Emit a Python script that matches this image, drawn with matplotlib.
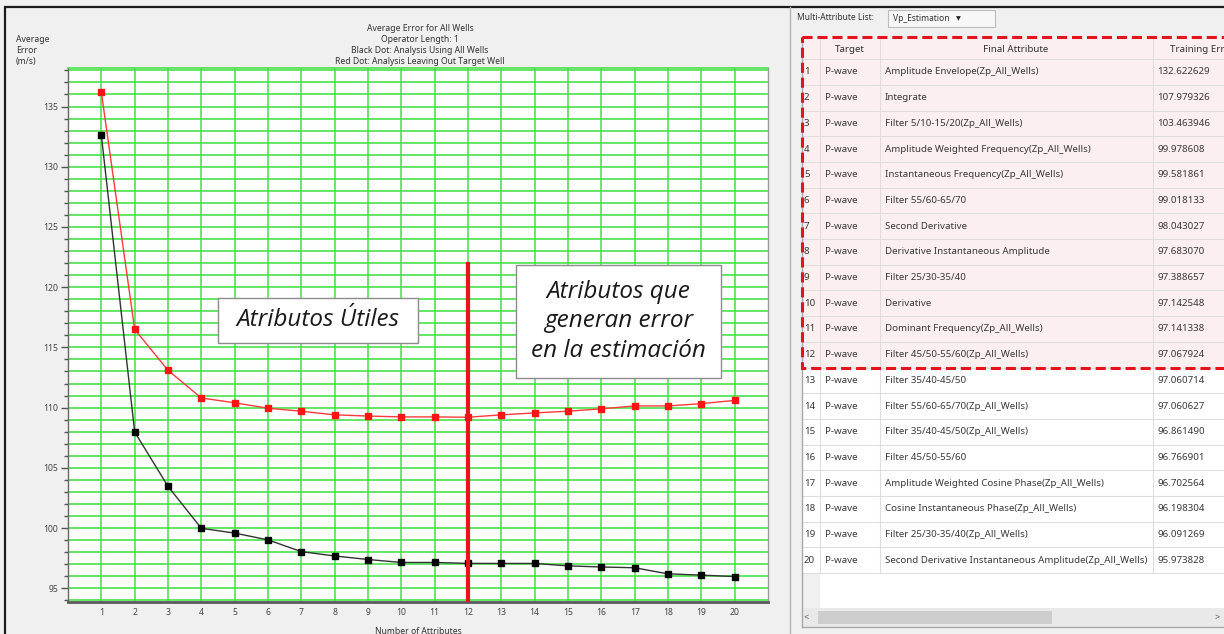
import matplotlib
matplotlib.use("Agg")
import matplotlib.pyplot as plt
from matplotlib.patches import Rectangle
from matplotlib.ticker import MultipleLocator

# ---- data -------------------------------------------------------------
n_attributes = list(range(1, 21))

training_error = [132.622629, 107.979326, 103.463946, 99.978608, 99.581861,
                  99.018133, 98.043027, 97.683070, 97.388657, 97.142548,
                  97.141338, 97.067924, 97.060714, 97.060627, 96.861490,
                  96.766901, 96.702564, 96.198304, 96.091269, 95.973828]

validation_error = [136.2, 116.5, 113.1, 110.8, 110.4, 109.95, 109.7, 109.4,
                    109.3, 109.23, 109.23, 109.2, 109.4, 109.56, 109.7, 109.9,
                    110.14, 110.14, 110.33, 110.6]

targets = ["P-wave"] * 20

final_attributes = [
    "Amplitude Envelope(Zp_All_Wells)",
    "Integrate",
    "Filter 5/10-15/20(Zp_All_Wells)",
    "Amplitude Weighted Frequency(Zp_All_Wells)",
    "Instantaneous Frequency(Zp_All_Wells)",
    "Filter 55/60-65/70",
    "Second Derivative",
    "Derivative Instantaneous Amplitude",
    "Filter 25/30-35/40",
    "Derivative",
    "Dominant Frequency(Zp_All_Wells)",
    "Filter 45/50-55/60(Zp_All_Wells)",
    "Filter 35/40-45/50",
    "Filter 55/60-65/70(Zp_All_Wells)",
    "Filter 35/40-45/50(Zp_All_Wells)",
    "Filter 45/50-55/60",
    "Amplitude Weighted Cosine Phase(Zp_All_Wells)",
    "Cosine Instantaneous Phase(Zp_All_Wells)",
    "Filter 25/30-35/40(Zp_All_Wells)",
    "Second Derivative Instantaneous Amplitude(Zp_All_Wells)",
]

table_headers = ["Target", "Final Attribute", "Training Error"]
useful_count = 12

title_lines = ["Average Error for All Wells", "Operator Length: 1",
               "Black Dot: Analysis Using All Wells",
               "Red Dot: Analysis Leaving Out Target Well"]

# ---- figure & helpers -------------------------------------------------
W, H = 1224, 634
UI_FONT = "Noto Sans"
NOTE_FONT = "Open Sans"
fig = plt.figure(figsize=(W / 100, H / 100), dpi=100, facecolor="#f0f0f0")


def px_box(x0, y0, x1, y1):
    return [x0 / W, 1 - y1 / H, (x1 - x0) / W, (y1 - y0) / H]


# canvas in pixel units for the window chrome and the table
cv = fig.add_axes([0, 0, 1, 1], zorder=0)
cv.set_xlim(0, W)
cv.set_ylim(H, 0)
cv.axis("off")

# window frame
cv.plot([4, W], [6.5, 6.5], color="#1c1c1c", lw=1.6, solid_capstyle="butt")
cv.plot([5, 5], [6.5, H], color="#1c1c1c", lw=1.6, solid_capstyle="butt")
cv.plot([790, 790], [6.5, H], color="#b4b4b4", lw=1.0)

# ---- chart ------------------------------------------------------------
ax = fig.add_axes(px_box(68, 68, 768, 602), zorder=2)
ax.set_facecolor("#fefefe")
ylo, yhi = 93.86, 138.2
ax.set_xlim(0, 21)
ax.set_ylim(ylo, yhi)

ax.set_xticks(n_attributes)
ax.set_xticklabels([str(v) for v in n_attributes])
ax.yaxis.set_major_locator(MultipleLocator(5))
ax.yaxis.set_minor_locator(MultipleLocator(1))

green = "#44e044"
ax.grid(True, which="both", axis="y", color=green, lw=1.15, zorder=0)
ax.grid(True, which="major", axis="x", color=green, lw=1.1, zorder=0)
ax.set_axisbelow(True)

ax.tick_params(axis="x", length=0, pad=4, labelsize=6.2, labelcolor="#444")
ax.tick_params(axis="y", which="major", direction="out", length=5, width=1,
               color="#555", labelsize=6.2, labelcolor="#444", pad=2)
ax.tick_params(axis="y", which="minor", direction="out", length=3, width=1,
               color="#555")
for lab in ax.get_xticklabels() + ax.get_yticklabels():
    lab.set_family(UI_FONT)

ax.spines["left"].set_color("#666")
ax.spines["left"].set_linewidth(1.0)
ax.spines["bottom"].set_color("#5a5a5a")
ax.spines["bottom"].set_linewidth(2.0)
ax.spines["right"].set_color("#9a9a9a")
ax.spines["right"].set_linewidth(1.0)
ax.spines["top"].set_color(green)
ax.spines["top"].set_linewidth(1.15)

ax.plot(n_attributes, validation_error, color="#ff3a3a", lw=1.0, marker="s",
        ms=5, mfc="#ff1414", mec="#ff1414", zorder=4)
ax.plot(n_attributes, training_error, color="#333333", lw=1.0, marker="s",
        ms=5, mfc="#000000", mec="#000000", zorder=4)

# divider after the last useful attribute
divider_top = 121.9
ax.axvline(useful_count, ymin=0, ymax=(divider_top - ylo) / (yhi - ylo),
           color="#e8141c", lw=3.0, zorder=5)

# annotation boxes
ax.add_patch(Rectangle((4.5, 115.4), 6.0, 3.7, facecolor="white",
                       edgecolor="#8c8c8c", lw=1.0, zorder=6))
ax.text(7.5, 117.25, "Atributos Útiles", ha="center", va="center",
        fontsize=17.5, style="italic", family=NOTE_FONT, color="#1a1a1a",
        zorder=7)
ax.add_patch(Rectangle((13.45, 112.5), 6.15, 9.35, facecolor="white",
                       edgecolor="#8c8c8c", lw=1.0, zorder=6))
ax.text(16.52, 117.17, "Atributos que\ngeneran error\nen la estimación",
        ha="center", va="center", fontsize=17.5, style="italic",
        family=NOTE_FONT, color="#1a1a1a", linespacing=1.3, zorder=7)

# chart titles and axis labels
for i, line in enumerate(title_lines):
    cv.text(420, 28.5 + i * 11.1, line, ha="center", va="center",
            fontsize=6.2, family=UI_FONT, color="#333")
for i, line in enumerate(["Average", "Error", "(m/s)"]):
    cv.text(16, 39.5 + i * 11.1, line, ha="left", va="center",
            fontsize=6.2, family=UI_FONT, color="#333")
cv.text(418, 631, "Number of Attributes", ha="center", va="center",
        fontsize=6.2, family=UI_FONT, color="#333")

# ---- attribute table --------------------------------------------------
cv.text(797, 18, "Multi-Attribute List:", ha="left", va="center",
        fontsize=6.1, family=UI_FONT, color="#333")
cv.add_patch(Rectangle((888, 10), 107, 17, facecolor="#f7f7f7",
                       edgecolor="#bdbdbd", lw=0.8))
cv.text(893, 18.5, "Vp_Estimation", ha="left", va="center", fontsize=6.1,
        family=UI_FONT, color="#333")
cv.text(958, 18.5, "▼", ha="center", va="center", fontsize=4.5,
        family="DejaVu Sans", color="#222")

col_x = [802, 820, 880, 1153, 1260]
tab_top, head_bot, row_h = 37.0, 59.15, 25.7
rows_bot = head_bot + len(targets) * row_h
scroll_top, tab_bot = 608, 627

# header and rows backgrounds
cv.add_patch(Rectangle((col_x[0], tab_top), col_x[-1] - col_x[0],
                       head_bot - tab_top, facecolor="#fcefef", lw=0))
for i in range(len(targets)):
    y0 = head_bot + i * row_h
    face = "#fcefef" if i < useful_count else "#ffffff"
    cv.add_patch(Rectangle((col_x[0], y0), col_x[-1] - col_x[0], row_h,
                           facecolor=face, lw=0))
# empty area below the rows
cv.add_patch(Rectangle((col_x[1], rows_bot), col_x[-1] - col_x[1],
                       scroll_top - rows_bot, facecolor="#ffffff", lw=0))
cv.add_patch(Rectangle((col_x[0], rows_bot), col_x[1] - col_x[0],
                       scroll_top - rows_bot, facecolor="#f0f0f0", lw=0))

# grid lines
for i in range(len(targets) + 1):
    y = head_bot + i * row_h
    cv.plot([col_x[0], W], [y, y], color="#dedede", lw=0.8)
for x in col_x[1:4]:
    cv.plot([x, x], [tab_top, rows_bot], color="#dedede", lw=0.8)

# scrollbar
cv.add_patch(Rectangle((col_x[0], scroll_top), W - col_x[0],
                       tab_bot - scroll_top, facecolor="#e9e9e9", lw=0))
cv.add_patch(Rectangle((818, scroll_top + 3), 234, tab_bot - scroll_top - 6,
                       facecolor="#cdcdcd", lw=0))
cv.text(806, (scroll_top + tab_bot) / 2, "<", ha="center", va="center",
        fontsize=6.5, family=UI_FONT, color="#555")
cv.text(1217, (scroll_top + tab_bot) / 2, ">", ha="center", va="center",
        fontsize=6.5, family=UI_FONT, color="#555")

# outer border of the table
cv.plot([col_x[0], col_x[0]], [tab_top, tab_bot], color="#a8a8a8", lw=1.0)
cv.plot([col_x[0], W], [tab_bot, tab_bot], color="#a8a8a8", lw=1.0)

# header text
hy = (tab_top + head_bot) / 2 + 1
cv.text(850, hy, table_headers[0], ha="center", va="center", fontsize=7,
        family=UI_FONT, color="#333")
cv.text(1016, hy, table_headers[1], ha="center", va="center", fontsize=7,
        family=UI_FONT, color="#333")
cv.text(1170, hy, table_headers[2], ha="left", va="center", fontsize=7,
        family=UI_FONT, color="#333")

# row text
for i, (tg, attr, err) in enumerate(zip(targets, final_attributes,
                                        training_error)):
    yc = head_bot + (i + 0.5) * row_h
    kw = dict(va="center", ha="left", fontsize=7, family=UI_FONT,
              color="#3a3a3a")
    cv.text(804, yc, str(i + 1), **kw)
    cv.text(825, yc, tg, **kw)
    cv.text(885, yc, attr, **kw)
    cv.text(1157, yc, f"{err:.6f}", **kw)

# highlight of the useful attributes
cv.add_patch(Rectangle((col_x[0], tab_top), 440,
                       head_bot + useful_count * row_h - tab_top,
                       facecolor="none", edgecolor="#e4141e", lw=2.2,
                       ls=(0, (3.3, 1.6)), zorder=5))

fig.savefig("out.png", dpi=100, facecolor=fig.get_facecolor())
